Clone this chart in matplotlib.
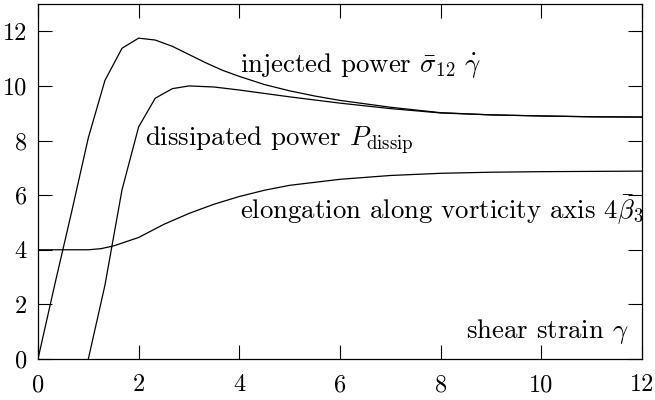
import numpy as np
import matplotlib
matplotlib.use("Agg")
import matplotlib.pyplot as plt

plt.rcParams['font.family'] = 'serif'
plt.rcParams['font.serif'] = ['cmr10', 'DejaVu Serif']
plt.rcParams['mathtext.fontset'] = 'cm'
plt.rcParams['axes.unicode_minus'] = False

# injected power sigma_12 * gamma_dot
inj_x = [0, 0.33, 0.67, 1.0, 1.33, 1.67, 2.0, 2.33, 2.67, 3.0, 3.33, 3.67,
         4.0, 4.5, 5.0, 5.5, 6.0, 7.0, 8.0, 9.0, 10.0, 11.0, 12.0]
inj_y = [0, 2.7, 5.4, 8.1, 10.2, 11.38, 11.75, 11.68, 11.45, 11.15, 10.85, 10.57,
         10.35, 10.05, 9.82, 9.63, 9.47, 9.22, 9.02, 8.94, 8.9, 8.87, 8.86]

# dissipated power
dis_x = [1.0, 1.33, 1.67, 2.0, 2.33, 2.67, 3.0, 3.5, 4.0, 5.0, 6.0, 7.0,
         8.0, 9.0, 10.0, 11.0, 12.0]
dis_y = [0, 2.7, 6.2, 8.5, 9.55, 9.9, 10.0, 9.96, 9.85, 9.6, 9.37, 9.17,
         9.01, 8.94, 8.9, 8.87, 8.86]

# elongation along vorticity axis 4*beta_3
elo_x = [0, 0.5, 1.0, 1.25, 1.5, 2.0, 2.5, 3.0, 3.5, 4.0, 4.5, 5.0, 6.0,
         7.0, 8.0, 9.0, 10.0, 11.0, 12.0]
elo_y = [4.0, 4.0, 4.0, 4.04, 4.14, 4.45, 4.93, 5.33, 5.67, 5.95, 6.18, 6.36,
         6.58, 6.72, 6.8, 6.84, 6.86, 6.87, 6.88]

fig = plt.figure(figsize=(6.55, 4.0), dpi=100)
ax = fig.add_axes([0.058, 0.1025, 0.922, 0.8875])

lw = 0.9
ax.plot(inj_x, inj_y, color='black', lw=lw)
ax.plot(dis_x, dis_y, color='black', lw=lw)
ax.plot(elo_x, elo_y, color='black', lw=lw)

ax.set_xlim(0, 12)
ax.set_ylim(0, 13)
ax.set_xticks([0, 2, 4, 6, 8, 10, 12])
ax.set_yticks([0, 2, 4, 6, 8, 10, 12])
ax.tick_params(direction='in', length=10, width=0.8, top=True, right=True,
               labelsize=17.5)
ax.tick_params(axis='x', pad=11)
ax.tick_params(axis='y', pad=8)
for s in ax.spines.values():
    s.set_linewidth(0.9)

fs = 19.3
ax.text(4.02, 10.7, r'injected power $\bar{\sigma}_{12}\ \dot{\gamma}$',
        fontsize=fs, va='center', ha='left')
ax.text(2.13, 8.0, r'dissipated power $P_{\rm dissip}$',
        fontsize=fs, va='center', ha='left')
ax.text(4.02, 5.45, r'elongation along vorticity axis $4\bar{\beta}_3$',
        fontsize=fs, va='center', ha='left')
ax.text(11.73, 1.0, r'shear strain $\gamma$',
        fontsize=fs, va='center', ha='right')

fig.savefig('out.png', dpi=100)
